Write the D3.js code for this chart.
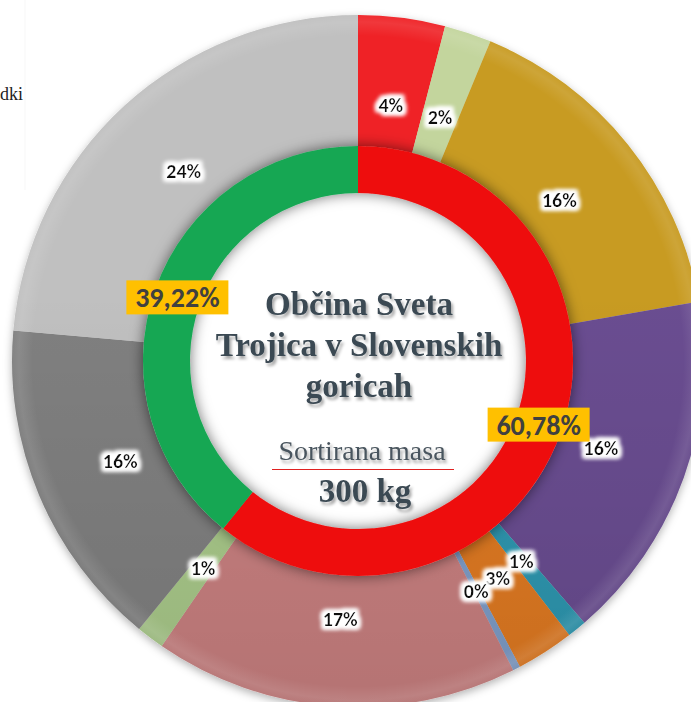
<!DOCTYPE html>
<html>
<head>
<meta charset="utf-8">
<script src="https://cdn.jsdelivr.net/npm/d3@7/dist/d3.min.js"></script>
<style>
  body { margin: 0; background: #fff; overflow: hidden; }
  svg { display: block; }
</style>
</head>
<body>
<div id="chart-area"></div>
<script>
  // Outer ring: share of each fraction (%), clockwise from 12 o'clock
  var outerCategories = ['f1', 'f2', 'f3', 'f4', 'f5', 'f6', 'f7', 'f8', 'f9', 'f10', 'f11'];
  var outerValues = [4.05, 2.2, 16, 16.4, 0.9, 2.7, 0.35, 17, 1.3, 15.5, 23.6];
  var outerColors = ['#ef2125', '#c3d59d', '#c89b20', '#6a4d91', '#2f97b0', '#e07a22',
                     '#7f9dc8', '#c98080', '#a9c98a', '#808080', '#c0c0c0'];

  // Inner ring
  var innerCategories = ['Nesortirano', 'Sortirano'];
  var innerValues = [60.78, 39.22];
  var innerColors = ['#ee0a0a', '#17a753'];

  var titleLines = ['Občina Sveta', 'Trojica v Slovenskih', 'goricah'];
  var subTitle = 'Sortirana masa';
  var massLabel = '300 kg';
  var legendFragment = 'dki';

  var W = 691, H = 702;
  var cx = 358, cy = 361;
  var R = 346, r0 = 215, innerOuter = 215, innerInner = 168, labelR = 258;

  var svg = d3.select('#chart-area').append('svg')
      .attr('width', W)
      .attr('height', H);

  var defs = svg.append('defs');

  // soft shadow around the inner ring
  var fs = defs.append('filter').attr('id', 'ringShadow')
      .attr('x', '-20%').attr('y', '-20%').attr('width', '140%').attr('height', '140%');
  fs.append('feGaussianBlur').attr('in', 'SourceAlpha').attr('stdDeviation', 7).attr('result', 'b');
  fs.append('feFlood').attr('flood-color', '#000').attr('flood-opacity', 0.55).attr('result', 'c');
  fs.append('feComposite').attr('in', 'c').attr('in2', 'b').attr('operator', 'in').attr('result', 's');
  var fm = fs.append('feMerge');
  fm.append('feMergeNode').attr('in', 's');
  fm.append('feMergeNode').attr('in', 'SourceGraphic');

  // shadow under the outer ring
  var fo = defs.append('filter').attr('id', 'outerShadow')
      .attr('x', '-10%').attr('y', '-10%').attr('width', '120%').attr('height', '120%');
  fo.append('feGaussianBlur').attr('in', 'SourceAlpha').attr('stdDeviation', 4).attr('result', 'b');
  fo.append('feOffset').attr('in', 'b').attr('dy', 3).attr('result', 'o');
  fo.append('feFlood').attr('flood-color', '#000').attr('flood-opacity', 0.3).attr('result', 'c');
  fo.append('feComposite').attr('in', 'c').attr('in2', 'o').attr('operator', 'in').attr('result', 's');
  var fom = fo.append('feMerge');
  fom.append('feMergeNode').attr('in', 's');
  fom.append('feMergeNode').attr('in', 'SourceGraphic');

  // white glow behind the percentage labels
  var fg = defs.append('filter').attr('id', 'glow')
      .attr('x', '-30%').attr('y', '-40%').attr('width', '160%').attr('height', '180%');
  fg.append('feMorphology').attr('in', 'SourceAlpha').attr('operator', 'dilate').attr('radius', 2.5).attr('result', 'd');
  fg.append('feGaussianBlur').attr('in', 'd').attr('stdDeviation', 2).attr('result', 'b');
  fg.append('feFlood').attr('flood-color', '#fff').attr('result', 'w');
  fg.append('feComposite').attr('in', 'w').attr('in2', 'b').attr('operator', 'in').attr('result', 'g');
  var fgm = fg.append('feMerge');
  fgm.append('feMergeNode').attr('in', 'g');
  fgm.append('feMergeNode').attr('in', 'g');
  fgm.append('feMergeNode').attr('in', 'SourceGraphic');

  // shadow for centre text
  var ft = defs.append('filter').attr('id', 'textShadow')
      .attr('x', '-10%').attr('y', '-30%').attr('width', '120%').attr('height', '160%');
  ft.append('feGaussianBlur').attr('in', 'SourceAlpha').attr('stdDeviation', 1.6).attr('result', 'b');
  ft.append('feOffset').attr('in', 'b').attr('dx', 2).attr('dy', 2.5).attr('result', 'o');
  ft.append('feFlood').attr('flood-color', '#000').attr('flood-opacity', 0.35).attr('result', 'c');
  ft.append('feComposite').attr('in', 'c').attr('in2', 'o').attr('operator', 'in').attr('result', 's');
  var ftm = ft.append('feMerge');
  ftm.append('feMergeNode').attr('in', 's');
  ftm.append('feMergeNode').attr('in', 'SourceGraphic');

  // rim highlight + darker bottom on the outer ring
  var rg = defs.append('radialGradient').attr('id', 'rim')
      .attr('gradientUnits', 'userSpaceOnUse')
      .attr('cx', 0).attr('cy', 0).attr('r', R);
  rg.append('stop').attr('offset', 0.94).attr('stop-color', '#fff').attr('stop-opacity', 0);
  rg.append('stop').attr('offset', 0.98).attr('stop-color', '#fff').attr('stop-opacity', 0.1);
  rg.append('stop').attr('offset', 1).attr('stop-color', '#fff').attr('stop-opacity', 0.04);

  var lg = defs.append('linearGradient').attr('id', 'shade')
      .attr('gradientUnits', 'userSpaceOnUse')
      .attr('x1', 0).attr('y1', -R).attr('x2', 0).attr('y2', R);
  lg.append('stop').attr('offset', 0.4).attr('stop-color', '#000').attr('stop-opacity', 0);
  lg.append('stop').attr('offset', 1).attr('stop-color', '#000').attr('stop-opacity', 0.1);

  // partly hidden legend text at the left edge
  svg.append('line')
      .attr('x1', 25).attr('x2', 25).attr('y1', 0).attr('y2', 190)
      .attr('stroke', '#f7f7f7').attr('stroke-width', 1);
  svg.append('text')
      .attr('x', 0).attr('y', 100)
      .attr('font-family', "'Liberation Serif', 'Times New Roman', serif")
      .attr('font-size', '18px')
      .attr('fill', '#222')
      .text(legendFragment);

  var g = svg.append('g')
      .attr('transform', 'translate(' + cx + ',' + cy + ')');

  var pie = d3.pie().sort(null).value(function(d) { return d; });

  // Outer ring
  var outerArc = d3.arc().innerRadius(r0).outerRadius(R);
  var outerData = pie(outerValues);
  var outerG = g.append('g').attr('filter', 'url(#outerShadow)');
  outerG.selectAll('path.outer')
      .data(outerData)
      .enter().append('path')
      .attr('class', 'outer')
      .attr('d', outerArc)
      .attr('fill', function(d, i) { return outerColors[i]; });

  var fullRing = d3.arc().innerRadius(r0).outerRadius(R).startAngle(0).endAngle(2 * Math.PI);
  g.append('path').attr('d', fullRing()).attr('fill', 'url(#shade)');
  g.append('path').attr('d', fullRing()).attr('fill', 'url(#rim)');

  // Inner ring
  var innerArc = d3.arc().innerRadius(innerInner).outerRadius(innerOuter);
  var innerData = pie(innerValues);
  var innerG = g.append('g').attr('filter', 'url(#ringShadow)');
  innerG.selectAll('path.inner')
      .data(innerData)
      .enter().append('path')
      .attr('class', 'inner')
      .attr('d', innerArc)
      .attr('fill', function(d, i) { return innerColors[i]; });

  // Outer labels
  var labelArc = d3.arc().innerRadius(labelR).outerRadius(labelR);
  g.selectAll('text.outer-label')
      .data(outerData)
      .enter().append('text')
      .attr('class', 'outer-label')
      .attr('transform', function(d) { return 'translate(' + labelArc.centroid(d) + ')'; })
      .attr('text-anchor', 'middle')
      .attr('dy', '0.36em')
      .attr('font-family', "Carlito, 'Liberation Sans', Arial, sans-serif")
      .attr('font-weight', 'bold')
      .attr('font-size', '20px')
      .attr('fill', '#111')
      .attr('filter', 'url(#glow)')
      .text(function(d) { return Math.round(d.data) + '%'; });

  // Inner labels on yellow boxes
  var fmt = d3.formatLocale({decimal: ',', thousands: '.', grouping: [3], currency: ['', '€']}).format('.2f');
  var midArc = d3.arc().innerRadius((innerInner + innerOuter) / 2).outerRadius((innerInner + innerOuter) / 2);
  var innerLabels = g.selectAll('g.inner-label')
      .data(innerData)
      .enter().append('g')
      .attr('class', 'inner-label')
      .attr('transform', function(d) { return 'translate(' + midArc.centroid(d) + ')'; });
  innerLabels.append('rect')
      .attr('x', -51).attr('y', -17)
      .attr('width', 102).attr('height', 34)
      .attr('fill', '#ffc000');
  innerLabels.append('text')
      .attr('text-anchor', 'middle')
      .attr('dy', '0.36em')
      .attr('font-family', "Carlito, 'Liberation Sans', Arial, sans-serif")
      .attr('font-weight', 'bold')
      .attr('font-size', '28px')
      .attr('fill', '#404040')
      .text(function(d) { return fmt(d.data) + '%'; });

  // Centre text
  var center = g.append('g').attr('filter', 'url(#textShadow)');
  center.selectAll('text.title')
      .data(titleLines)
      .enter().append('text')
      .attr('class', 'title')
      .attr('x', 1)
      .attr('y', function(d, i) { return -46 + i * 41; })
      .attr('text-anchor', 'middle')
      .attr('font-family', "'Liberation Serif', 'Times New Roman', serif")
      .attr('font-weight', 'bold')
      .attr('font-size', '33px')
      .attr('fill', '#3a4852')
      .text(function(d) { return d; });

  center.append('text')
      .attr('x', 4).attr('y', 99)
      .attr('text-anchor', 'middle')
      .attr('font-family', "'Liberation Serif', 'Times New Roman', serif")
      .attr('font-size', '28px')
      .attr('fill', '#4a555e')
      .text(subTitle);

  g.append('line')
      .attr('x1', -86).attr('x2', 96)
      .attr('y1', 108.5).attr('y2', 108.5)
      .attr('stroke', '#e02020').attr('stroke-width', 1.2);

  center.append('text')
      .attr('x', 7).attr('y', 141)
      .attr('text-anchor', 'middle')
      .attr('font-family', "'Liberation Serif', 'Times New Roman', serif")
      .attr('font-weight', 'bold')
      .attr('font-size', '33px')
      .attr('fill', '#3a4852')
      .text(massLabel);
</script>
</body>
</html>
